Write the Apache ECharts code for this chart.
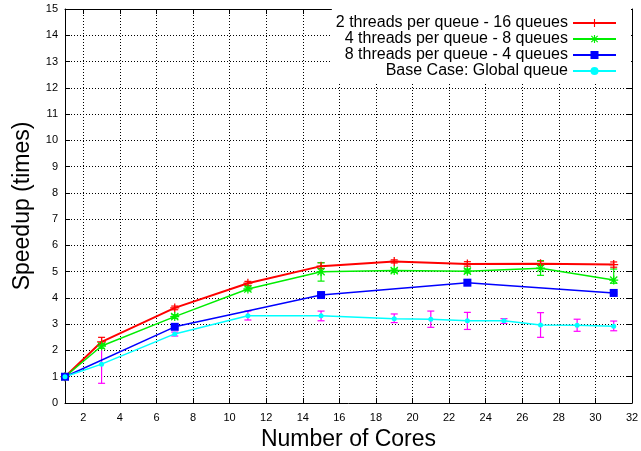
<!DOCTYPE html>
<html>
<head>
<meta charset="utf-8">
<script src="https://cdn.jsdelivr.net/npm/echarts@6/dist/echarts.min.js"></script>
<style>
  html, body { margin: 0; padding: 0; background: #fff; }
  #chart { width: 641px; height: 451px; }
</style>
</head>
<body>
<div id="chart"></div>
<script>
// Tick positions
const xTickValues = [2, 4, 6, 8, 10, 12, 14, 16, 18, 20, 22, 24, 26, 28, 30, 32];

// 2 threads per queue - 16 queues
const q16Cores   = [1, 3, 7, 11, 15, 19, 23, 27, 31];
const q16Speedup = [1.00, 2.33, 3.62, 4.56, 5.21, 5.39, 5.29, 5.30, 5.27];
const q16Low     = [0.96, 2.20, 3.55, 4.48, 5.12, 5.33, 5.21, 5.24, 5.17];
const q16High    = [1.04, 2.50, 3.69, 4.63, 5.34, 5.45, 5.38, 5.40, 5.37];

// 4 threads per queue - 8 queues
const q8Cores   = [1, 3, 7, 11, 15, 19, 23, 27, 31];
const q8Speedup = [1.00, 2.17, 3.29, 4.34, 5.00, 5.04, 5.02, 5.13, 4.68];
const q8Low     = [0.96, 2.08, 3.22, 4.27, 4.64, 4.97, 4.95, 4.86, 4.56];
const q8High    = [1.04, 2.26, 3.36, 4.42, 5.34, 5.10, 5.10, 5.42, 5.10];

// 8 threads per queue - 4 queues
const q4Cores   = [1, 7, 15, 23, 31];
const q4Speedup = [1.00, 2.90, 4.11, 4.58, 4.19];
const q4Low     = [0.97, 2.86, 4.07, 4.52, 4.15];
const q4High    = [1.03, 2.94, 4.15, 4.70, 4.23];

// Base case: global queue
const globalCores   = [1, 3, 7, 11, 15, 19, 21, 23, 25, 27, 29, 31];
const globalSpeedup = [1.00, 1.48, 2.63, 3.32, 3.32, 3.21, 3.19, 3.13, 3.13, 2.97, 2.96, 2.92];
const globalLow     = [0.90, 0.75, 2.55, 3.16, 3.13, 3.06, 2.88, 2.80, 3.03, 2.50, 2.73, 2.75];
const globalHigh    = [1.10, 2.20, 2.70, 3.50, 3.50, 3.39, 3.50, 3.45, 3.21, 3.44, 3.19, 3.12];

const zip = (xs, ys) => xs.map((x, i) => [x, ys[i]]);
const zip3 = (xs, lo, hi) => xs.map((x, i) => [x, lo[i], hi[i]]);

const PLUS = 'path://M4.3,0H5.7V4.3H10V5.7H5.7V10H4.3V5.7H0V4.3H4.3Z';
const STAR = 'path://M4.3,0H5.7V10H4.3Z M0,4.3H10V5.7H0Z M0.5,1.5L1.5,0.5L9.5,8.5L8.5,9.5Z M8.5,0.5L9.5,1.5L1.5,9.5L0.5,8.5Z';

function errorBarRenderer(color) {
  return function (params, api) {
    const x = api.value(0);
    const lo = api.coord([x, api.value(1)]);
    const hi = api.coord([x, api.value(2)]);
    const w = 3.5;
    const style = { stroke: color, lineWidth: 1.2 };
    return {
      type: 'group',
      children: [
        { type: 'line', shape: { x1: lo[0], y1: lo[1], x2: hi[0], y2: hi[1] }, style },
        { type: 'line', shape: { x1: lo[0] - w, y1: lo[1], x2: lo[0] + w, y2: lo[1] }, style },
        { type: 'line', shape: { x1: hi[0] - w, y1: hi[1], x2: hi[0] + w, y2: hi[1] }, style }
      ]
    };
  };
}

function errorSeries(data, color) {
  return {
    type: 'custom',
    renderItem: errorBarRenderer(color),
    data: data,
    encode: { x: 0, y: [1, 2] },
    silent: true,
    z: 3
  };
}

function lineSeries(name, data, color, symbol, size, width) {
  return {
    name: name,
    type: 'line',
    data: data,
    symbol: symbol,
    symbolSize: size,
    showAllSymbol: true,
    lineStyle: { color: color, width: width },
    itemStyle: { color: color, borderWidth: 0 },
    animation: false,
    z: 4
  };
}

const FONT = 'Liberation Sans, Arial, sans-serif';
const gridLine = { show: true, lineStyle: { color: '#000', width: 1, type: [1, 2] } };

const chart = echarts.init(document.getElementById('chart'), null, { renderer: 'canvas' });
chart.setOption({
  animation: false,
  backgroundColor: '#fff',
  grid: { left: 65, right: 9, top: 9, bottom: 48, containLabel: false, outerBoundsMode: 'none' },
  legend: {
    orient: 'vertical',
    right: 10,
    top: 9,
    padding: [6, 14, 3, 4],
    backgroundColor: '#fff',
    align: 'right',
    itemWidth: 43,
    itemHeight: 10,
    itemGap: 0,
    textStyle: { fontFamily: FONT, fontSize: 16, color: '#000', lineHeight: 15.7 },
    data: [
      '2 threads per queue - 16 queues',
      '4 threads per queue - 8 queues',
      '8 threads per queue - 4 queues',
      'Base Case: Global queue'
    ]
  },
  xAxis: [
    {
      type: 'value', min: 1, max: 32, position: 'bottom',
      name: 'Number of Cores', nameLocation: 'middle', nameGap: 21,
      nameTextStyle: { fontFamily: FONT, fontSize: 23, color: '#000' },
      axisLine: { show: true, onZero: false, lineStyle: { color: '#000', width: 1 } },
      axisTick: { show: true, inside: true, length: 5, customValues: xTickValues, lineStyle: { color: '#000' } },
      axisLabel: { show: true, customValues: xTickValues, margin: 9, fontFamily: FONT, fontSize: 11, color: '#000' },
      splitLine: gridLine
    },
    {
      type: 'value', min: 1, max: 32, position: 'top',
      axisLine: { show: true, onZero: false, lineStyle: { color: '#000', width: 1 } },
      axisTick: { show: true, inside: true, length: 5, customValues: xTickValues, lineStyle: { color: '#000' } },
      axisLabel: { show: false },
      splitLine: { show: false }
    }
  ],
  yAxis: [
    {
      type: 'value', min: 0, max: 15, interval: 1, position: 'left',
      name: 'Speedup (times)', nameLocation: 'middle', nameGap: 31,
      nameTextStyle: { fontFamily: FONT, fontSize: 23, color: '#000' },
      axisLine: { show: true, onZero: false, lineStyle: { color: '#000', width: 1 } },
      axisTick: { show: true, inside: true, length: 5, lineStyle: { color: '#000' } },
      axisLabel: { margin: 7, fontFamily: FONT, fontSize: 11, color: '#000' },
      splitLine: gridLine
    },
    {
      type: 'value', min: 0, max: 15, interval: 1, position: 'right',
      axisLine: { show: true, onZero: false, lineStyle: { color: '#000', width: 1 } },
      axisTick: { show: true, inside: true, length: 5, lineStyle: { color: '#000' } },
      axisLabel: { show: false },
      splitLine: { show: false }
    }
  ],
  series: [
    errorSeries(zip3(q16Cores, q16Low, q16High), '#ff0000'),
    errorSeries(zip3(q8Cores, q8Low, q8High), '#00ee00'),
    errorSeries(zip3(q4Cores, q4Low, q4High), '#0000ff'),
    lineSeries('2 threads per queue - 16 queues', zip(q16Cores, q16Speedup), '#ff0000', PLUS, 9, 2),
    lineSeries('4 threads per queue - 8 queues', zip(q8Cores, q8Speedup), '#00ee00', STAR, 9, 1.5),
    lineSeries('8 threads per queue - 4 queues', zip(q4Cores, q4Speedup), '#0000ff', 'rect', 8, 1.5),
    lineSeries('Base Case: Global queue', zip(globalCores, globalSpeedup), '#00ffff', 'circle', 5, 1.5),
    errorSeries(zip3(globalCores, globalLow, globalHigh), '#ff00ff')
  ]
});
</script>
</body>
</html>
